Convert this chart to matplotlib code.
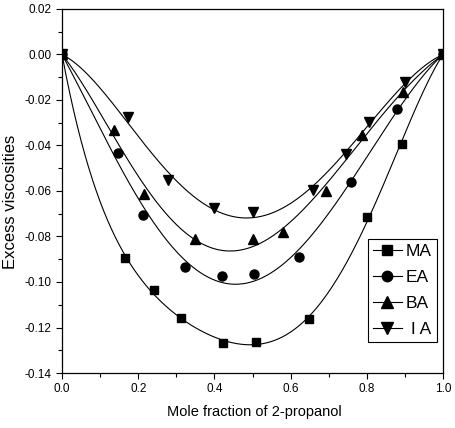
import numpy as np
import matplotlib
matplotlib.use("Agg")
import matplotlib.pyplot as plt
from matplotlib.ticker import MultipleLocator, FormatStrFormatter

plt.rcParams['font.family'] = ['Liberation Sans', 'DejaVu Sans']

# Excess viscosities
x_ma = [0.0, 0.165, 0.242, 0.312, 0.422, 0.509, 0.649, 0.801, 0.892, 1.0]
y_ma = [0.0, -0.0896, -0.1035, -0.1160, -0.1270, -0.1264, -0.1161, -0.0714, -0.0395, 0.0]

x_ea = [0.0, 0.146, 0.213, 0.324, 0.419, 0.504, 0.622, 0.759, 0.878, 1.0]
y_ea = [0.0, -0.0433, -0.0705, -0.0935, -0.0975, -0.0965, -0.0889, -0.0559, -0.0240, 0.0]

x_ba = [0.0, 0.137, 0.216, 0.349, 0.500, 0.579, 0.692, 0.787, 0.894, 1.0]
y_ba = [0.0, -0.0332, -0.0613, -0.0812, -0.0812, -0.0779, -0.0600, -0.0354, -0.0166, 0.0]

x_ia = [0.0, 0.172, 0.277, 0.400, 0.502, 0.658, 0.745, 0.807, 0.900, 1.0]
y_ia = [0.0, -0.0276, -0.0552, -0.0676, -0.0691, -0.0596, -0.0439, -0.0295, -0.0122, 0.0]

labels = ["MA", "EA", "BA", " I A"]
markers = ["s", "o", "^", "v"]
msizes = [6, 6.5, 7, 7]


# Redlich-Kister type least-squares fit, used for the smooth curves
def rk_fit(x, y, order=4):
    x = np.asarray(x)
    y = np.asarray(y)
    basis = np.column_stack([x * (1 - x) * (1 - 2 * x) ** k for k in range(order)])
    coef, *_ = np.linalg.lstsq(basis, y, rcond=None)
    xs = np.linspace(0, 1, 300)
    bs = np.column_stack([xs * (1 - xs) * (1 - 2 * xs) ** k for k in range(order)])
    return xs, bs @ coef


fig = plt.figure(figsize=(4.56, 4.28), dpi=100)
ax = fig.add_axes([0.136, 0.1285, 0.8355, 0.8505])

series = [(x_ma, y_ma), (x_ea, y_ea), (x_ba, y_ba), (x_ia, y_ia)]
for (xv, yv), lab, mk, ms in zip(series, labels, markers, msizes):
    xs, ys = rk_fit(xv, yv)
    ax.plot(xs, ys, color='black', lw=0.8)
    ax.plot(xv, yv, linestyle='none', marker=mk, color='black', ms=ms)
    # legend proxy: line through marker
    ax.plot([], [], color='black', lw=0.8, marker=mk, ms=ms + 1, label=lab)

ax.set_xlim(0, 1.0)
ax.set_ylim(-0.14, 0.02)
ax.xaxis.set_major_locator(MultipleLocator(0.2))
ax.xaxis.set_minor_locator(MultipleLocator(0.1))
ax.yaxis.set_major_locator(MultipleLocator(0.02))
ax.yaxis.set_minor_locator(MultipleLocator(0.01))
ax.xaxis.set_major_formatter(FormatStrFormatter('%.1f'))
ax.yaxis.set_major_formatter(FormatStrFormatter('%.2f'))
ax.tick_params(which='major', direction='out', length=4, width=0.8, labelsize=8.5)
ax.tick_params(which='minor', direction='out', length=3, width=0.8)
for sp in ax.spines.values():
    sp.set_linewidth(0.9)

ax.set_xlabel('Mole fraction of 2-propanol', fontsize=10.5)
ax.set_ylabel('Excess viscosities', fontsize=12)
ax.xaxis.set_label_coords(0.505, -0.088)
ax.yaxis.set_label_coords(-0.116, 0.47)

leg = ax.legend(loc='upper right', bbox_to_anchor=(0.984, 0.368), borderaxespad=0,
                fontsize=12.5, handlelength=1.7, handletextpad=0.2, labelspacing=0.62,
                borderpad=0.3, frameon=True, fancybox=False, framealpha=1)
leg.get_frame().set_edgecolor('black')
leg.get_frame().set_linewidth(0.8)

fig.savefig('out.png', dpi=100)
